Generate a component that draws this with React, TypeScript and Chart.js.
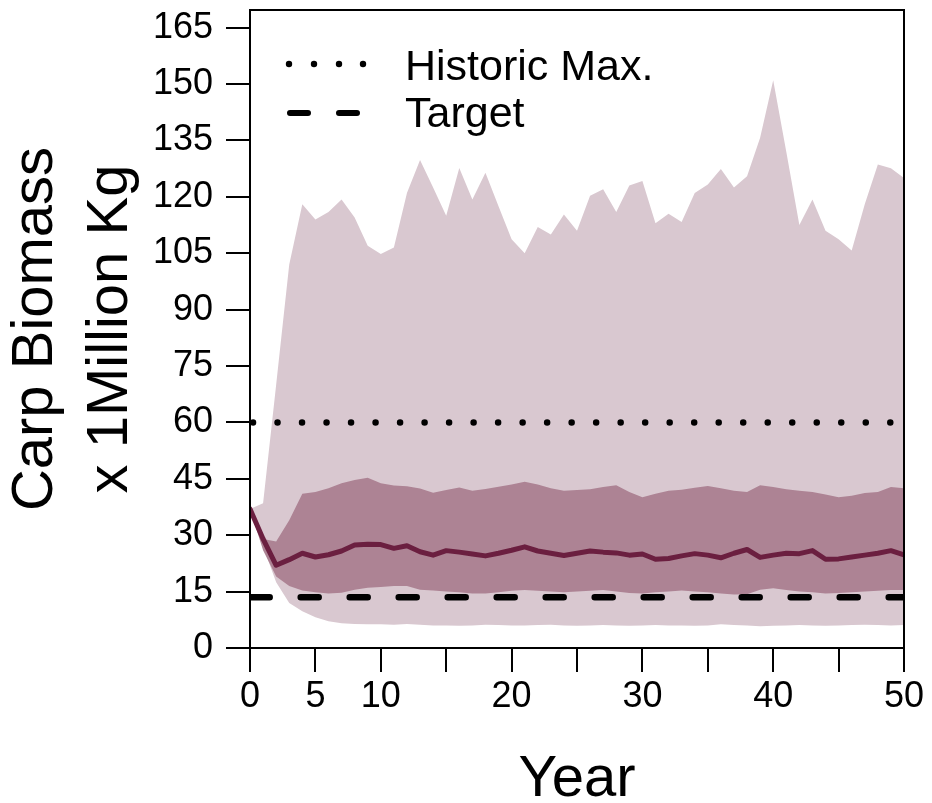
import React, { useEffect, useRef } from "react";
import { Chart, registerables } from "chart.js";

Chart.register(...registerables);

// ---------- data ----------
const years = [
  0, 1, 2, 3, 4, 5, 6, 7, 8, 9, 10, 11, 12, 13, 14, 15, 16, 17, 18, 19, 20,
  21, 22, 23, 24, 25, 26, 27, 28, 29, 30, 31, 32, 33, 34, 35, 36, 37, 38, 39,
  40, 41, 42, 43, 44, 45, 46, 47, 48, 49, 50,
];

const medianBiomass = [
  37, 29, 22, 23.5, 25.2, 24.2, 24.8, 25.8, 27.4, 27.6,
  27.5, 26.5, 27.2, 25.6, 24.7, 25.9, 25.5, 25, 24.5, 25.2,
  26, 26.9, 25.8, 25.2, 24.6, 25.2, 25.8, 25.5, 25.3, 24.7,
  25, 23.6, 23.8, 24.5, 25.1, 24.7, 24, 25.2, 26.2, 24.1,
  24.7, 25.2, 25.1, 25.9, 23.6, 23.7, 24.2, 24.7, 25.2, 25.9, 24.8,
];

const innerUpper = [
  37, 29, 28.3, 34, 41, 41.5, 42.5, 43.8, 44.7, 45.3,
  43.8, 43.2, 43, 42.4, 41.3, 42, 42.7, 41.8, 42.3, 42.9,
  43.5, 44.2, 43.5, 42.5, 41.8, 42, 42.2, 42.8, 43.3, 41.5,
  40.1, 41, 41.8, 42.1, 42.6, 43.1, 42.5, 41.8, 41.5, 43.3,
  42.8, 42.2, 41.8, 41.5, 40.8, 40.1, 40.5, 41.2, 41.5, 42.8, 42.5,
];

const innerLower = [
  37, 26, 19, 16.5, 15.3, 14.8, 14.5, 14.7, 15.5, 16,
  16.2, 16.5, 16.5, 15.5, 15.3, 15, 14.8, 14.5, 14.5, 14.8,
  15.2, 15.4, 15.2, 15, 14.8, 15, 15.2, 15.4, 15, 14.6,
  14.5, 14.8, 15, 15.3, 15, 14.8, 14.5, 14.2, 14.3, 15.5,
  15.9, 15.4, 15, 14.8, 14.5, 14.6, 14.8, 15, 15.2, 15.4, 15.4,
];

const outerUpper = [
  37, 38.5, 70, 102, 118, 114, 116, 119.3, 114.5, 107,
  104.8, 106.5, 121, 129.8, 122.5, 115, 127.7, 119.3, 126.4, 117.5,
  108.7, 105, 112, 110, 115.3, 111, 120.3, 122, 116, 123,
  124.2, 113, 115.5, 113.3, 121, 123.3, 127.4, 122.5, 125.5, 135.7,
  151, 132, 112.5, 119.3, 111, 108.7, 105.7, 118, 128.6, 127.6, 125,
];

const outerLower = [
  37, 27, 17.5, 12, 9.8, 8.2, 7.1, 6.6, 6.4, 6.3,
  6.3, 6.2, 6.4, 6.2, 6.0, 6.0, 5.9, 6.0, 6.2, 6.1,
  6.0, 6.0, 6.1, 6.2, 6.0, 5.9, 6.0, 6.1, 6.0, 5.9,
  6.0, 6.1, 6.0, 6.0, 5.9, 6.0, 6.3, 6.1, 6.0, 5.8,
  5.9, 6.0, 6.1, 6.0, 5.9, 6.0, 6.1, 6.2, 6.1, 6.0, 6.1,
];

const historicMax = 60;
const targetBiomass = 13.5;

const yTickValues = [0, 15, 30, 45, 60, 75, 90, 105, 120, 135, 150, 165];
const xTickValues = [0, 5, 10, 15, 20, 25, 30, 35, 40, 45, 50];
const xLabelledTicks = [0, 5, 10, 20, 30, 40, 50];

const legendLabels = ["Historic Max.", "Target"];
const yTitleLines = ["Carp Biomass", "x 1Million Kg"];
const xTitle = "Year";

// ---------- styles ----------
const FONT = "'Liberation Sans', Arial, Helvetica, sans-serif";
const LIGHT = "rgb(217,200,208)";
const DARK = "rgb(173,131,148)";
const LINE = "rgb(107,31,64)";

const decorPlugin = {
  id: "decor",
  afterDraw(chart: any) {
    const { ctx, chartArea: a } = chart;
    ctx.save();
    // box
    ctx.strokeStyle = "#000";
    ctx.lineWidth = 2;
    ctx.strokeRect(a.left, a.top, a.right - a.left, a.bottom - a.top);

    // legend symbols
    ctx.fillStyle = "#000";
    [289, 314, 339, 363].forEach((x) => {
      ctx.beginPath();
      ctx.arc(x, 64, 3.2, 0, Math.PI * 2);
      ctx.fill();
    });
    ctx.lineWidth = 6;
    ctx.lineCap = "round";
    ctx.beginPath();
    ctx.moveTo(290, 113);
    ctx.lineTo(308, 113);
    ctx.moveTo(339, 113);
    ctx.lineTo(357, 113);
    ctx.stroke();

    // legend text
    ctx.font = `43px ${FONT}`;
    ctx.textAlign = "left";
    ctx.textBaseline = "alphabetic";
    ctx.fillText(legendLabels[0], 405, 80);
    ctx.fillText(legendLabels[1], 405, 127);

    // axis titles
    ctx.font = `58px ${FONT}`;
    ctx.textAlign = "center";
    ctx.fillText(xTitle, (a.left + a.right) / 2, 796);

    const cy = (a.top + a.bottom) / 2;
    ctx.save();
    ctx.translate(52, cy);
    ctx.rotate(-Math.PI / 2);
    ctx.fillText(yTitleLines[0], 0, 0);
    ctx.restore();
    ctx.save();
    ctx.translate(127, cy);
    ctx.rotate(-Math.PI / 2);
    ctx.fillText(yTitleLines[1], 0, 0);
    ctx.restore();

    ctx.restore();
  },
};

function pts(values: number[]) {
  return years.map((x, i) => ({ x, y: values[i] }));
}

export default function App() {
  const ref = useRef<HTMLCanvasElement | null>(null);

  useEffect(() => {
    if (!ref.current) return;
    const hidden = {
      borderWidth: 0,
      pointRadius: 0,
      tension: 0,
    };
    const chart = new Chart(ref.current, {
      type: "line",
      data: {
        datasets: [
          { ...hidden, label: "outerLower", data: pts(outerLower), fill: false, order: 10 },
          {
            ...hidden,
            label: "outerUpper",
            data: pts(outerUpper),
            fill: 0,
            backgroundColor: LIGHT,
            order: 9,
          },
          { ...hidden, label: "innerLower", data: pts(innerLower), fill: false, order: 8 },
          {
            ...hidden,
            label: "innerUpper",
            data: pts(innerUpper),
            fill: 2,
            backgroundColor: DARK,
            order: 7,
          },
          {
            label: "median",
            data: pts(medianBiomass),
            borderColor: LINE,
            borderWidth: 5,
            pointRadius: 0,
            tension: 0,
            fill: false,
            borderCapStyle: "round",
            borderJoinStyle: "round",
            order: 3,
          },
          {
            label: "Historic Max.",
            data: [
              { x: years[0], y: historicMax },
              { x: years[years.length - 1], y: historicMax },
            ],
            borderColor: "#000",
            borderWidth: 6.5,
            borderDash: [0.01, 24.5],
            borderDashOffset: 21.5,
            borderCapStyle: "round",
            pointRadius: 0,
            fill: false,
            order: 2,
          },
          {
            label: "Target",
            data: [
              { x: years[0], y: targetBiomass },
              { x: years[years.length - 1], y: targetBiomass },
            ],
            borderColor: "#000",
            borderWidth: 6.5,
            borderDash: [18, 31],
            borderDashOffset: 47.3,
            borderCapStyle: "round",
            pointRadius: 0,
            fill: false,
            order: 1,
          },
        ],
      },
      options: {
        responsive: false,
        animation: false,
        devicePixelRatio: 1,
        layout: { padding: { top: 10, right: 28, bottom: 0, left: 0 } },
        plugins: {
          legend: { display: false },
          tooltip: { enabled: false },
        },
        scales: {
          x: {
            type: "linear",
            min: 0,
            max: 50,
            afterBuildTicks: (s: any) => {
              s.ticks = xTickValues.map((v) => ({ value: v }));
            },
            afterFit: (s: any) => {
              s.height = 155;
              s.paddingLeft = 0;
              s.paddingRight = 0;
            },
            grid: {
              drawOnChartArea: false,
              drawTicks: true,
              tickLength: 24,
              color: "#000",
              lineWidth: 2,
            },
            border: { display: true, color: "#000", width: 2 },
            ticks: {
              autoSkip: false,
              maxRotation: 0,
              padding: 3,
              color: "#000",
              font: { family: FONT, size: 36 },
              callback: (v: any) =>
                xLabelledTicks.includes(Number(v)) ? String(v) : "",
            },
          },
          y: {
            type: "linear",
            min: 0,
            max: 169.7,
            afterBuildTicks: (s: any) => {
              s.ticks = yTickValues.map((v) => ({ value: v }));
            },
            afterFit: (s: any) => {
              s.width = 250;
              s.paddingTop = 0;
              s.paddingBottom = 0;
            },
            grid: {
              drawOnChartArea: false,
              drawTicks: true,
              tickLength: 24,
              color: "#000",
              lineWidth: 2,
            },
            border: { display: true, color: "#000", width: 2 },
            ticks: {
              autoSkip: false,
              padding: 13,
              color: "#000",
              font: { family: FONT, size: 36 },
              callback: (v: any) => String(v),
            },
          },
        },
      },
      plugins: [decorPlugin],
    } as any);
    return () => chart.destroy();
  }, []);

  return (
    <div
      style={{
        position: "fixed",
        left: 0,
        top: 0,
        width: 932,
        height: 803,
        background: "#fff",
      }}
    >
      <canvas ref={ref} width={932} height={803} style={{ display: "block" }} />
    </div>
  );
}
